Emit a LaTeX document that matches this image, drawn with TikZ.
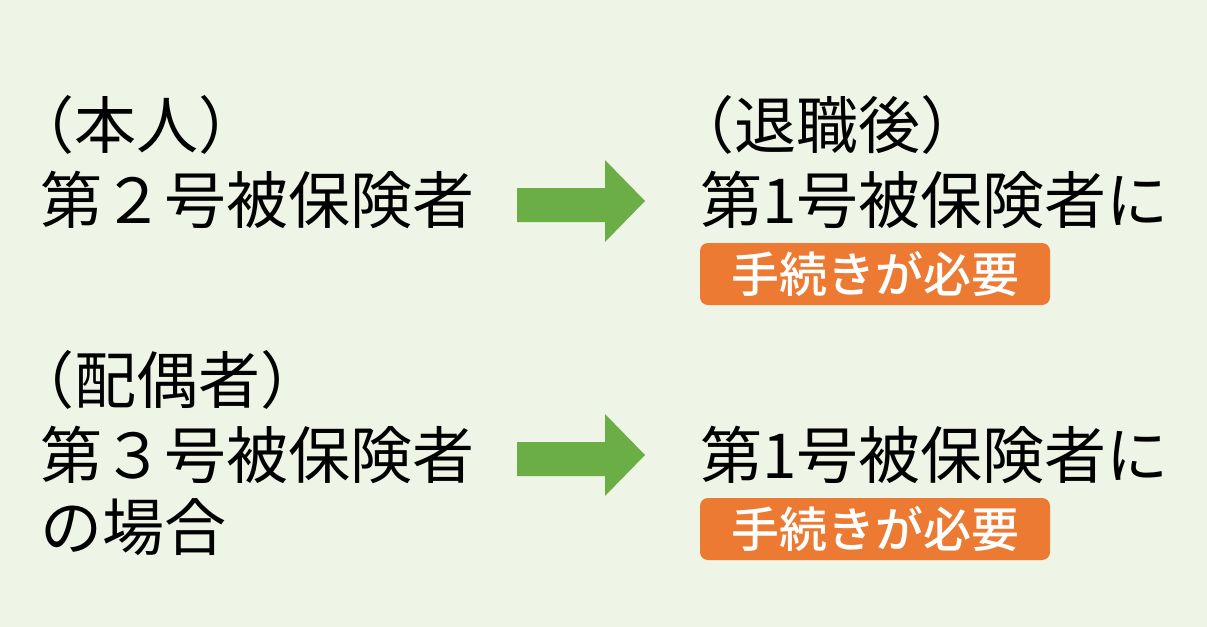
\documentclass[tikz,border=0pt]{standalone}
\usepackage{fontspec}
\setmainfont{Noto Sans CJK JP}
\newfontfamily\bfont{Noto Sans CJK JP Medium}
\definecolor{bg}{HTML}{EEF4E6}
\definecolor{arr}{HTML}{6AAE45}
\definecolor{badge}{HTML}{EC7A33}
\tikzset{
 txt/.style={anchor=west,inner sep=0pt,font=\fontsize{31pt}{31pt}\selectfont},
 bdg/.style={fill=badge,rounded corners=4pt,text=white,minimum width=175pt,minimum height=31pt,inner sep=0pt,font=\bfont\fontsize{24pt}{24pt}\selectfont},
 garrow/.style={fill=arr}
}
\begin{document}
\begin{tikzpicture}[x=0.5pt,y=-0.5pt]
\fill[bg] (0,0) rectangle (1207,627);
\useasboundingbox (0,0) rectangle (1207,627);
\node[txt] (a1) at (12,125) {（本人）};
\node[txt] (a2) at (40,200) {第２号被保険者};
\node[txt] (b1) at (672,125) {（退職後）};
\node[txt] (b2) at (700,200) {第1号被保険者に};
\node[bdg] (bb1) at (875,274) {手続きが必要};
\node[txt] (c1) at (12,380) {（配偶者）};
\node[txt] (c2) at (40,455) {第３号被保険者};
\node[txt] (c3) at (40,527) {の場合};
\node[txt] (d2) at (700,455) {第1号被保険者に};
\node[bdg] (bb2) at (875,529) {手続きが必要};
\fill[garrow] (517,188) -- (605,188) -- (605,160) -- (645,201) -- (605,242) -- (605,222) -- (517,222) -- cycle;
\fill[garrow] (517,442) -- (605,442) -- (605,414) -- (645,455) -- (605,496) -- (605,476) -- (517,476) -- cycle;
\end{tikzpicture}
\end{document}
